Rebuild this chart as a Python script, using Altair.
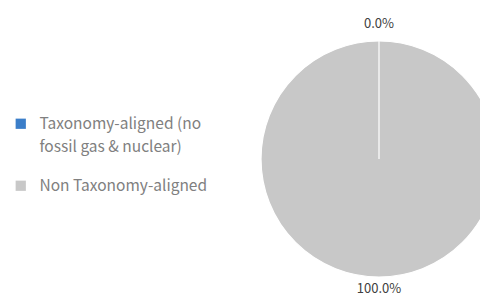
import altair as alt
import pandas as pd

categories = ["Taxonomy-aligned (no fossil gas & nuclear)", "Non Taxonomy-aligned"]
values = [0.0, 100.0]
labels = ["0.0%", "100.0%"]
colors = ["#3b7ec9", "#c8c8c8"]

df = pd.DataFrame({"category": categories, "value": values, "label": labels, "order": [0, 1]})

FONT = "Noto Sans CJK KR"
CX, CY, R = 371, 151, 118

color_scale = alt.Scale(domain=categories, range=colors)

pie = alt.Chart(df).mark_arc(outerRadius=R, stroke="white", strokeWidth=1.2).encode(
    theta=alt.Theta("value:Q", stack=True),
    order=alt.Order("order:Q"),
    color=alt.Color(
        "category:N",
        scale=color_scale,
        sort=categories,
        legend=alt.Legend(
            title=None,
            orient="none",
            legendX=5,
            legendY=108,
            symbolType="square",
            symbolSize=105,
            symbolStrokeWidth=0,
            labelFont=FONT,
            labelFontSize=15.5,
            labelColor="#808080",
            labelOffset=11,
            rowPadding=22,
            labelLimit=300,
            labelExpr="datum.label == 'Taxonomy-aligned (no fossil gas & nuclear)' ? ['Taxonomy-aligned (no', 'fossil gas & nuclear)'] : datum.label",
        ),
    ),
    x=alt.value(CX),
    y=alt.value(CY),
)

# boundary of the zero-size slice (white separator from centre to top)
sep = alt.Chart(df).transform_filter(alt.datum.value == 0).mark_rule(
    color="white", strokeWidth=1.2
).encode(x=alt.value(CX), y=alt.value(CY), y2=alt.value(CY - R))

base_text = alt.Chart(df).encode(
    theta=alt.Theta("value:Q", stack=True),
    order=alt.Order("order:Q"),
    text="label:N",
    x=alt.value(CX),
    y=alt.value(CY),
)
text_top = base_text.transform_filter(alt.datum.order == 0).mark_text(
    radius=135, font=FONT, fontSize=13, color="#404040"
)
text_bottom = base_text.transform_filter(alt.datum.order == 1).mark_text(
    radius=130, font=FONT, fontSize=13, color="#404040"
)

chart = alt.layer(pie, sep, text_top, text_bottom).properties(
    width=472, height=288, autosize=alt.AutoSizeParams(type="none"), padding=0
).configure(
    view=alt.ViewConfig(stroke=None),
    style={"guide-label": {"lineHeight": 23}},
)

chart.save("out.html", embed_options={"renderer": "svg", "actions": False})
